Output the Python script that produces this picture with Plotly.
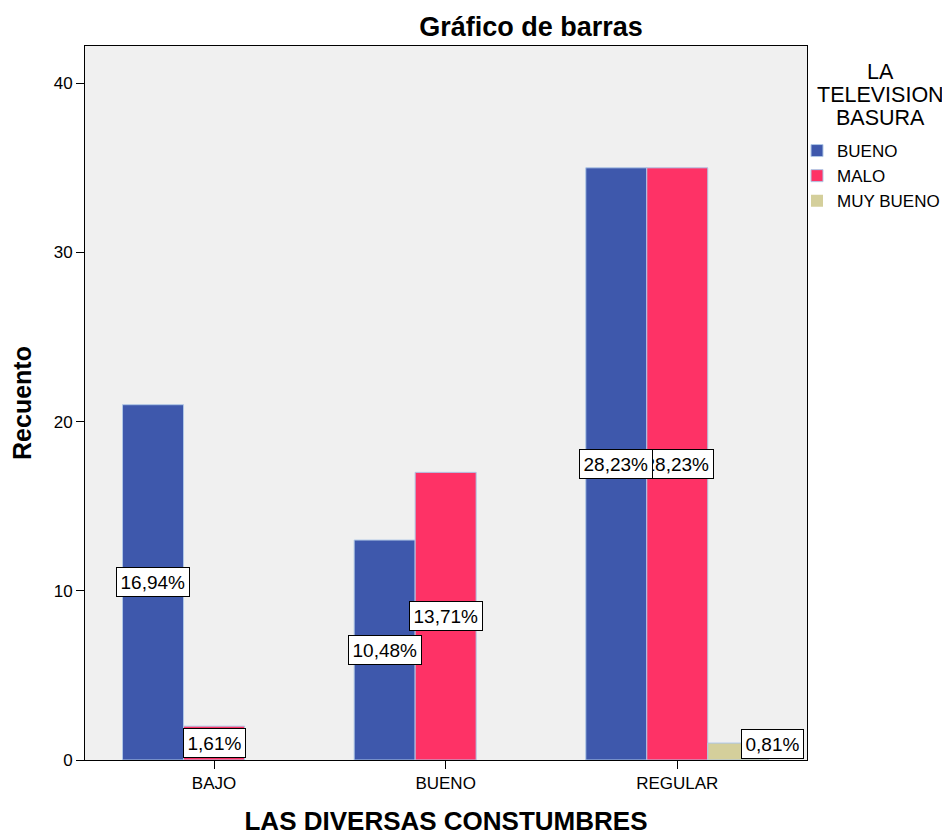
import plotly.graph_objects as go

categories = ["BAJO", "BUENO", "REGULAR"]
series_names = ["BUENO", "MALO", "MUY BUENO"]
bueno = [21, 13, 35]
malo = [2, 17, 35]
muy_bueno = [0, 0, 1]
series_values = [bueno, malo, muy_bueno]
colors = ["#3E58AC", "#FE3266", "#D4CF9B"]
y_ticks = [0, 10, 20, 30, 40]
legend_title_lines = ["LA", "TELEVISION", "BASURA"]

total = sum(sum(s) for s in series_values)
bargap = 0.21
bar_w = (1 - bargap) / len(series_names)

FONT = "Liberation Sans, Arial, sans-serif"

fig = go.Figure()
for name, vals, col in zip(series_names, series_values, colors):
    fig.add_trace(go.Bar(
        x=categories, y=vals, name=name,
        marker=dict(color=col,
                    line=dict(color="#AFC7E6",
                              width=[1 if v > 0 else 0 for v in vals])),
    ))

# plot area in viewport pixels (page has 8px body margin)
VX0, VX1, VY0, VY1 = 85, 807, 46, 760


def px_to_paper_x(vx):
    return (vx - VX0) / (VX1 - VX0)


def px_to_paper_y(vy):
    return (VY1 - vy) / (VY1 - VY0)


annotations = []
# draw MUY BUENO, then MALO, then BUENO so BUENO boxes sit on top
for si in [2, 1, 0]:
    vals = series_values[si]
    for ci, v in enumerate(vals):
        if v == 0:
            continue
        pct = v / total * 100
        txt = f"{pct:.2f}%".replace(".", ",")
        xpos = ci + (si - 1) * bar_w
        xshift, yshift = 0, 0
        if v <= 1:
            xshift, yshift = 34, 8
        annotations.append(dict(
            x=xpos, y=v / 2, xref="x", yref="y", text=txt, showarrow=False,
            xshift=xshift, yshift=yshift,
            font=dict(family=FONT, size=19, color="#000000"),
            bgcolor="#FFFFFF", bordercolor="#000000", borderwidth=1, borderpad=3.5,
        ))

for line, vy in zip(legend_title_lines, [72, 95, 118]):
    annotations.append(dict(
        x=px_to_paper_x(880), xref="paper", y=px_to_paper_y(vy), yref="paper",
        text=line, showarrow=False, xanchor="center", yanchor="middle",
        font=dict(size=21.5, family=FONT, color="#000000"),
    ))

W, H = 942, 828
fig.update_layout(
    width=W, height=H,
    margin=dict(l=VX0 - 8, r=W - (VX1 - 8), t=VY0 - 8, b=H - (VY1 - 8),
                autoexpand=False),
    paper_bgcolor="#FFFFFF", plot_bgcolor="#F0F0F0",
    barmode="group", bargap=bargap, bargroupgap=0,
    font=dict(family=FONT, size=17, color="#000000"),
    title=dict(text="<b>Gráfico de barras</b>", x=(531 - 8) / W, xanchor="center",
               xref="container", y=1 - (27 - 8) / H, yanchor="middle",
               yref="container",
               font=dict(size=27, family=FONT, color="#000000")),
    showlegend=True,
    legend=dict(x=px_to_paper_x(797), xanchor="left",
                y=px_to_paper_y(133), yanchor="top",
                font=dict(size=17, family=FONT, color="#000000"),
                bgcolor="rgba(0,0,0,0)", itemclick=False,
                tracegroupgap=0, traceorder="normal"),
    xaxis=dict(range=[-0.557, 2.56], showgrid=False, zeroline=False,
               showline=True, linecolor="#000000", linewidth=1, mirror=True,
               ticks="outside", ticklen=8, tickcolor="#000000",
               tickfont=dict(size=17, family=FONT, color="#000000"),
               title=dict(text="<b>LAS DIVERSAS CONSTUMBRES</b>",
                          font=dict(size=26, family=FONT, color="#000000"),
                          standoff=20)),
    yaxis=dict(range=[0, 42.2], tickvals=y_ticks, showgrid=False, zeroline=False,
               showline=True, linecolor="#000000", linewidth=1, mirror=True,
               ticks="outside", ticklen=8, tickcolor="#000000",
               tickfont=dict(size=17, family=FONT, color="#000000"),
               title=dict(text="<b>Recuento</b>",
                          font=dict(size=25, family=FONT, color="#000000"),
                          standoff=18)),
    annotations=annotations,
)

fig.write_html("out.html")
